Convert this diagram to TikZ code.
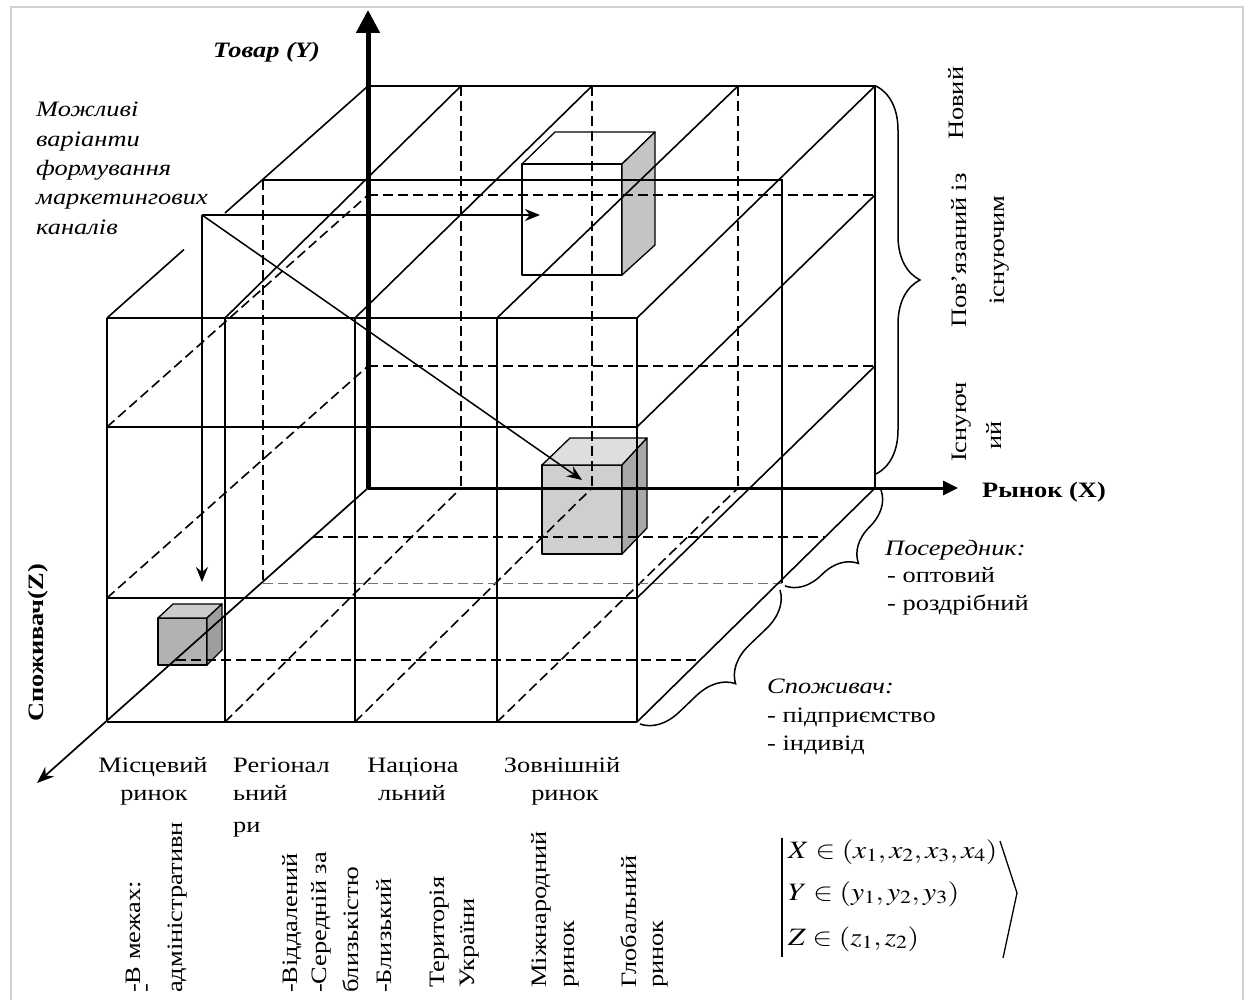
\documentclass[tikz,border=0pt]{standalone}
\usepackage{mathptmx}
\usepackage{graphicx}
\usepackage{fontspec}
\setmainfont[FakeStretch=1.2]{Liberation Serif}
\usetikzlibrary{decorations.pathreplacing,arrows.meta}
\tikzset{
  gl/.style={line width=1.6pt},
  gd/.style={line width=1.6pt, dash pattern=on 10pt off 5pt},
  gt/.style={line width=0.9pt, dash pattern=on 10pt off 5pt, black!55},
  txt/.style={font=\fontsize{22}{30}\selectfont, inner sep=0pt},
  lt/.style={txt, anchor=base west},
  ct/.style={txt, anchor=base},
  rt/.style={txt, rotate=90, anchor=base west},
  ar/.style={line width=1.5pt, -{Stealth[length=15pt,width=12pt]}},
  brc/.style={decorate, line width=1.5pt, decoration={brace, amplitude=#1}},
  cubeline/.style={line width=1.3pt, line join=round},
}
\begin{document}
\begin{tikzpicture}[x=1pt,y=-1pt]
\useasboundingbox (0,0) rectangle (1251,1000);
% frame
\draw[black!18, line width=2pt] (11,1000) -- (11,7) -- (1243,7) -- (1243,1000);

% ---------- cubes (under the grid) ----------
% small cube
\filldraw[cubeline, fill=black!30] (158,618) rectangle (207,665);
\filldraw[cubeline, fill=black!20] (158,618) -- (173,604) -- (222,604) -- (207,618) -- cycle;
\filldraw[cubeline, fill=black!38] (207,618) -- (222,604) -- (222,650) -- (207,665) -- cycle;
% middle cube
\filldraw[cubeline, fill=black!19] (542,465) rectangle (622,554);
\filldraw[cubeline, fill=black!13] (542,465) -- (570,438) -- (647,438) -- (622,465) -- cycle;
\filldraw[cubeline, fill=black!34] (622,465) -- (647,438) -- (647,528) -- (622,554) -- cycle;
% top cube
\draw[cubeline] (522,164) rectangle (622,275);
\draw[cubeline] (522,164) -- (555,132) -- (655,132) -- (622,164);
\filldraw[cubeline, fill=black!23] (622,164) -- (655,132) -- (655,245) -- (622,275) -- cycle;

% ---------- hidden (dashed) lines ----------
\foreach \x in {461,592,738} \draw[gd] (\x,86) -- (\x,488);
\foreach \y in {195,366} \draw[gd] (368,\y) -- (875,\y);
\draw[gd] (107,427) -- (368,195);
\draw[gd] (107,598) -- (368,366);
\draw[gd] (225,722) -- (461,488);
\draw[gd] (355,722) -- (592,488);
\draw[gd] (497,722) -- (738,488);
\draw[gd] (176,660) -- (700,660);
\draw[gd] (313,537) -- (825,537);
\draw[gd] (263,180) -- (263,583);
\draw[gt] (263,583) -- (782,583);

% ---------- visible (solid) lines ----------
\foreach \x in {107,225,355,497,637} \draw[gl] (\x,318) -- (\x,722);
\foreach \y in {318,427,598,722} \draw[gl] (107,\y) -- (637,\y);
\draw[gl] (107,318) -- (184,249.5);
\draw[gl] (225,213) -- (368,86);
\draw[gl] (225,318) -- (461,86);
\draw[gl] (355,318) -- (592,86);
\draw[gl] (497,318) -- (738,86);
\draw[gl] (637,318) -- (875,86);
\draw[gl] (368,86) -- (875,86) -- (875,488);
\draw[gl] (637,427) -- (875,195);
\draw[gl] (637,598) -- (875,366);
\draw[gl] (637,722) -- (875,488);
\draw[gl] (263,180) -- (782,180) -- (782,583);

% ---------- axes ----------
\coordinate (O) at (368,488);
\coordinate (Ytip) at (368,10);
\coordinate (Xtip) at (958,488);
\coordinate (Ztip) at (37,783);
\draw[line width=5pt, -{Triangle[length=23pt,width=23pt]}] (O) -- (Ytip);
\draw[line width=3pt, -{Triangle[length=15pt,width=14pt]}] (O) -- (Xtip);
\draw[line width=1.7pt, -{Stealth[length=17pt,width=13pt]}] (O) -- (Ztip);

% ---------- channel arrows ----------
\coordinate (A) at (202,215);
\coordinate (Aright) at (540,215);
\coordinate (Adown) at (202,582);
\coordinate (Adiag) at (582,480);
\draw[ar] (A) -- (Aright);
\draw[ar] (A) -- (Adown);
\draw[ar] (A) -- (Adiag);

% ---------- braces ----------
\draw[brc=44pt] (876,86) -- (876,474);
\draw[brc=36pt] (881,490) -- (785,586);
\draw[brc=37pt] (780,590) -- (640,724);

% ---------- texts ----------
\node[lt, font=\fontsize{22}{30}\selectfont\bfseries\itshape] (tovar) at (213,58) {Товар (Y)};
\node[lt, font=\fontsize{22}{30}\selectfont\itshape] (m1) at (36,117) {Можливі};
\node[lt, font=\fontsize{22}{30}\selectfont\itshape] (m2) at (36,147) {варіанти};
\node[lt, font=\fontsize{22}{30}\selectfont\itshape] (m3) at (36,176) {формування};
\node[lt, font=\fontsize{22}{30}\selectfont\itshape] (m4) at (36,205) {маркетингових};
\node[lt, font=\fontsize{22}{30}\selectfont\itshape] (m5) at (36,235) {каналів};

\node[lt, font=\fontsize{22}{30}\selectfont\bfseries] (rynok) at (982,497) {Рынок (X)};

\node[lt, font=\fontsize{22}{30}\selectfont\itshape] (pos) at (885,555) {Посередник:};
\node[lt] (pos1) at (887,582) {- оптовий};
\node[lt] (pos2) at (887,610) {- роздрібний};
\node[lt, font=\fontsize{22}{30}\selectfont\itshape] (spo) at (767,693) {Споживач:};
\node[lt] (spo1) at (767,722) {- підприємство};
\node[lt] (spo2) at (767,750) {- індивід};

\node[ct] (c1a) at (153,772) {Місцевий};
\node[ct] (c1b) at (154,800) {ринок};
\node[lt] (c2a) at (233,772) {Регіонал};
\node[lt] (c2b) at (233,800) {ьний};
\node[lt] (c2c) at (233,832) {ри};
\node[ct] (c3a) at (413,772) {Націона};
\node[ct] (c3b) at (412,800) {льний};
\node[ct] (c4a) at (562,772) {Зовнішній};
\node[ct] (c4b) at (565,800) {ринок};

% rotated bottom texts
\node[rt] (v1) at (140,993) {-В межах:};
\node[rt] (v2) at (152,993) {-};
\node[rt] (v3) at (182,993) {адміністративн};
\node[rt] (v4) at (297,993) {-Віддалений};
\node[rt] (v5) at (326,993) {-Середній за};
\node[rt] (v6) at (358,993) {близькістю};
\node[rt] (v7) at (391,993) {-Близький};
\node[rt] (v8) at (444,988) {Територія};
\node[rt] (v9) at (474,988) {України};
\node[rt] (v10) at (546,988) {Міжнародний};
\node[rt] (v11) at (574,988) {ринок};
\node[rt] (v12) at (636,988) {Глобальний};
\node[rt] (v13) at (663,988) {ринок};

% rotated right texts
\node[rt] (y1) at (963,140) {Новий};
\node[rt] (y2a) at (966,328) {Пов’язаний із};
\node[rt] (y2b) at (1004,305) {існуючим};
\node[rt] (y3a) at (966,462) {Існуюч};
\node[rt] (y3b) at (1001,450) {ий};
\node[rt, font=\fontsize{22}{30}\selectfont\bfseries] (zlab) at (43,722) {Споживач(Z)};

% formula
\coordinate (barT) at (782,838);
\coordinate (barB) at (782,957);
\draw[line width=1.3pt] (barT) -- (barB);
\coordinate (brT) at (1000,841);
\coordinate (brM) at (1017,893);
\coordinate (brB) at (1003,958);
\draw[line width=1.3pt] (brT) -- (brM) -- (brB);
\node[lt, font=\fontsize{25}{30}\selectfont] (f1) at (788,858) {\scalebox{1.18}[1]{$X\in(x_1, x_2, x_3, x_4)$}};
\node[lt, font=\fontsize{25}{30}\selectfont] (f2) at (788,900) {\scalebox{1.18}[1]{$Y\in(y_1, y_2, y_3)$}};
\node[lt, font=\fontsize{25}{30}\selectfont] (f3) at (788,945) {\scalebox{1.18}[1]{$Z\in(z_1, z_2)$}};
\end{tikzpicture}
\end{document}
